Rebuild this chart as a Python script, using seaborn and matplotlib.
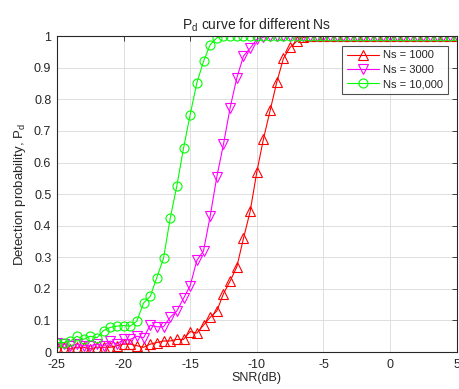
import matplotlib
matplotlib.use('agg')
from matplotlib import pyplot as plt
import numpy as np
import pandas as pd
import seaborn as sns

# SNR grid, 0.5 dB steps
snr = np.arange(-25, 5.5, 0.5)

pd_1000 = [0.015, 0.015, 0.01, 0.015, 0.015, 0.01, 0.015, 0.015, 0.015, 0.02,
           0.025, 0.025, 0.02, 0.015, 0.025, 0.03, 0.035, 0.035, 0.04, 0.04,
           0.065, 0.06, 0.085, 0.11, 0.13, 0.185, 0.225, 0.27, 0.36, 0.445,
           0.57, 0.675, 0.765, 0.855, 0.93, 0.965, 0.984, 0.996] + [1.0] * 23
pd_3000 = [0.03, 0.025, 0.02, 0.025, 0.02, 0.02, 0.025, 0.02, 0.035, 0.025,
           0.04, 0.04, 0.05, 0.045, 0.085, 0.08, 0.08, 0.11, 0.13, 0.17,
           0.21, 0.29, 0.32, 0.43, 0.555, 0.658, 0.774, 0.868, 0.937, 0.962,
           0.99, 0.997] + [1.0] * 29
pd_10000 = [0.03, 0.03, 0.035, 0.05, 0.04, 0.05, 0.045, 0.068, 0.078, 0.082,
            0.084, 0.082, 0.098, 0.155, 0.176, 0.236, 0.297, 0.423, 0.526, 0.645,
            0.752, 0.852, 0.92, 0.973, 0.995] + [1.0] * 36

labels = ['Ns = 1000', 'Ns = 3000', 'Ns = 10,000']
colors = ['#ff0000', '#ff00ff', '#00ff00']
markers = ['^', 'v', 'o']

sns.set_style('white')
plt.rcParams['font.family'] = ['Liberation Sans', 'DejaVu Sans']
plt.rcParams['axes.unicode_minus'] = False

fig = plt.figure(figsize=(4.59, 3.89), dpi=100)
ax = fig.add_axes([0.124, 0.095, 0.871, 0.812])

for vals, lab, col, mk in zip([pd_1000, pd_3000, pd_10000], labels, colors, markers):
	df = pd.DataFrame({'snr': snr, 'pd': vals})
	sns.lineplot(x='snr', y='pd', data=df, ax=ax, color=col, marker=mk,
				 markersize=6.5, mfc='none', mec=col, mew=0.8, linewidth=0.8,
				 label=lab)

ax.set_xlim(-25, 5)
ax.set_ylim(0, 1)
ax.set_xticks(np.arange(-25, 6, 5))
ax.set_yticks(np.arange(0, 1.01, 0.1))
ax.set_yticklabels(['0', '0.1', '0.2', '0.3', '0.4', '0.5', '0.6', '0.7', '0.8', '0.9', '1'])
ax.grid(True, color='#dedede', linewidth=0.7)
ax.set_axisbelow(True)
for s in ax.spines.values():
	s.set_color('#262626')
	s.set_linewidth(0.8)
ax.tick_params(direction='in', length=3.5, width=0.6, colors='#262626',
			   labelsize=9, top=True, right=True)
ax.tick_params(axis='x', pad=5)
ax.tick_params(axis='y', pad=4)

ax.set_xlabel('SNR(dB)', fontsize=9, color='#262626', labelpad=1)
ax.set_ylabel('Detection probability, P$_\\mathregular{d}$', fontsize=9.5, color='#262626', labelpad=4)
ax.set_title('P$_\\mathregular{d}$ curve for different Ns', fontsize=10, color='#262626', pad=5)

leg = ax.legend(loc='upper right', bbox_to_anchor=(0.978, 0.969), frameon=True, fancybox=False,
				edgecolor='#262626', fontsize=8, handlelength=2.9, borderpad=0.4,
				labelspacing=0.4, handletextpad=0.4, borderaxespad=0)
leg.get_frame().set_linewidth(0.8)

plt.savefig('out.png', dpi=100)
plt.close()
